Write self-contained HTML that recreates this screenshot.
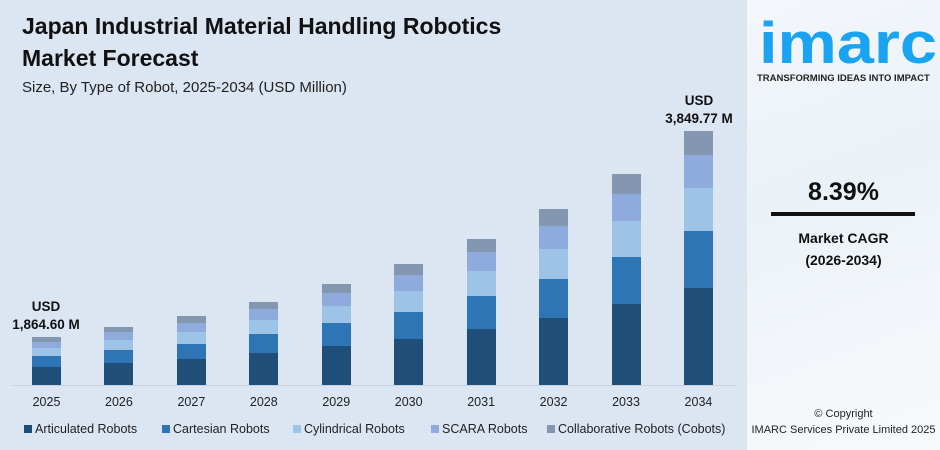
<!DOCTYPE html>
<html><head><meta charset="utf-8"><style>
*{margin:0;padding:0;box-sizing:border-box}
body{width:940px;height:450px;overflow:hidden;background:#dce5f2;font-family:"Liberation Sans",sans-serif;position:relative}
.abs{position:absolute}
h1{position:absolute;left:22px;top:10px;font-size:23px;line-height:32px;font-weight:bold;color:#111}
.sub{left:22px;top:79px;font-size:15px;color:#222}
.bar{position:absolute;width:29px}
.yr{position:absolute;top:395px;width:60px;text-align:center;font-size:12.5px;color:#222}
.lbl{position:absolute;font-weight:bold;font-size:13.5px;text-align:center;line-height:18px;color:#111}
.leg{position:absolute;top:422px;font-size:12.5px;color:#222;white-space:nowrap}
.leg i{display:inline-block;width:8px;height:8px;margin-right:3px;vertical-align:0}
.rp{left:747px;top:0;width:193px;height:450px;overflow:hidden;background:linear-gradient(160deg,#f4f7fb 0%,#eaf1f7 40%,#f2f6fa 70%,#f7f9fb 100%)}
</style></head><body>
<h1>Japan Industrial Material Handling Robotics<br>Market Forecast</h1>
<div class="abs sub">Size, By Type of Robot, 2025-2034 (USD Million)</div>
<div class="abs" style="left:12px;top:385px;width:724px;height:1px;background:#c9d2de"></div>
<div id="bars"></div>
<div class="lbl" style="left:6px;top:298px;width:80px">USD<br>1,864.60 M</div>
<div class="lbl" style="left:658px;top:92px;width:82px">USD<br>3,849.77 M</div>
<div class="leg" style="left:24px"><i style="background:#1f4e79"></i>Articulated Robots</div>
<div class="leg" style="left:162px"><i style="background:#2e75b6"></i>Cartesian Robots</div>
<div class="leg" style="left:293px"><i style="background:#9dc3e6"></i>Cylindrical Robots</div>
<div class="leg" style="left:431px"><i style="background:#8faadc"></i>SCARA Robots</div>
<div class="leg" style="left:547px"><i style="background:#8497b0"></i>Collaborative Robots (Cobots)</div>
<div class="abs rp">
 <div class="abs" style="left:12px;top:14px;font-size:58px;font-weight:bold;color:#1aa3f0;line-height:60px;transform:scaleX(1.15);transform-origin:0 0;white-space:nowrap">imarc</div>
 <div class="abs" style="left:10px;top:73px;font-size:9.5px;font-weight:bold;color:#222;white-space:nowrap">TRANSFORMING IDEAS INTO IMPACT</div>
 <div class="abs" style="left:0;top:178px;width:193px;text-align:center;font-size:25px;font-weight:bold;color:#111">8.39%</div>
 <div class="abs" style="left:24px;top:212px;width:144px;height:4px;background:#111"></div>
 <div class="abs" style="left:0;top:227px;width:193px;text-align:center;font-size:14px;font-weight:bold;color:#111;line-height:22px">Market CAGR<br>(2026-2034)</div>
 <div class="abs" style="left:0;top:406px;width:193px;text-align:center;font-size:11px;color:#222;line-height:16px">© Copyright<br>IMARC Services Private Limited 2025</div>
</div>
<script>
var tops=[337,327,316,302,284,264,239,209,174,131],base=385;
var fr=[.383,.223,.17,.13,.094],col=['#1f4e79','#2e75b6','#9dc3e6','#8faadc','#8497b0'];
var h='';
for(var i=0;i<10;i++){var x=32+i*72.44,H=base-tops[i],y=base;
for(var k=0;k<5;k++){var s=(k==4)?(y-tops[i]):Math.round(H*fr[k]);y-=s;
h+='<div class="bar" style="left:'+x+'px;top:'+y+'px;height:'+s+'px;background:'+col[k]+'"></div>';}
h+='<div class="yr" style="left:'+(x-15.5)+'px">'+(2025+i)+'</div>';}
document.getElementById('bars').innerHTML=h;
</script>
</body></html>
